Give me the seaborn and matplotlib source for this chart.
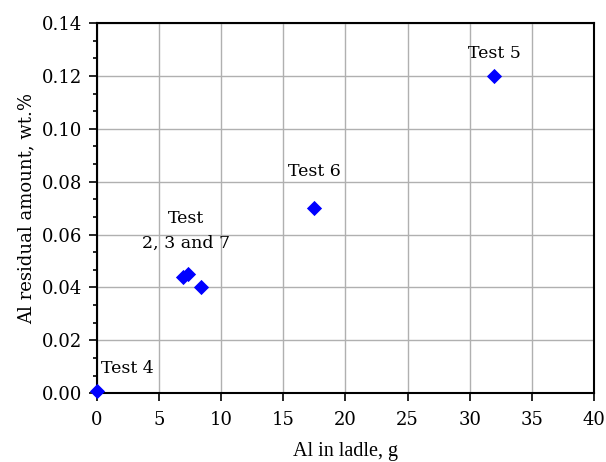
import matplotlib.pyplot as plt
import seaborn as sns
import pandas as pd
from matplotlib.ticker import MultipleLocator, AutoMinorLocator

# Al added to ladle vs residual Al
al_ladle = [0.0, 6.9, 7.3, 8.4, 17.5, 32.0]
al_residual = [0.001, 0.044, 0.045, 0.040, 0.070, 0.120]

# annotation texts and anchor points (data coords, baseline of last line)
labels = ["Test 4", "Test\n2, 3 and 7", "Test 6", "Test 5"]
label_x = [0.3, 7.2, 17.5, 32.0]
label_y = [0.0075, 0.0548, 0.0822, 0.1268]
label_ha = ["left", "center", "center", "center"]

sns.set_style("white")
plt.rcParams['font.family'] = ['DejaVu Serif']
plt.rcParams['text.color'] = 'black'
plt.rcParams['axes.labelcolor'] = 'black'
plt.rcParams['xtick.color'] = 'black'
plt.rcParams['ytick.color'] = 'black'

df = pd.DataFrame({"x": al_ladle, "y": al_residual})

fig, ax = plt.subplots(figsize=(6.06, 4.62), dpi=100)
sns.scatterplot(data=df, x="x", y="y", marker="D", s=60, color="blue",
                edgecolor="blue", linewidth=0, ax=ax, zorder=5, clip_on=False)

for t, lx, ly, ha in zip(labels, label_x, label_y, label_ha):
    ax.text(lx, ly, t, ha=ha, va="baseline", fontsize=12.5, linespacing=1.65)

ax.set_xlim(0, 40)
ax.set_ylim(0, 0.14)
ax.xaxis.set_major_locator(MultipleLocator(5))
ax.yaxis.set_major_locator(MultipleLocator(0.02))
ax.yaxis.set_minor_locator(AutoMinorLocator(3))
ax.yaxis.set_major_formatter(plt.FuncFormatter(lambda v, p: f"{v:.2f}"))

ax.grid(True, which="major", color="#b0b0b0", linewidth=1)
ax.set_axisbelow(True)
for sp in ax.spines.values():
    sp.set_color("black")
    sp.set_linewidth(1.5)

ax.tick_params(axis="both", which="major", direction="out", length=6, width=1.2,
               labelsize=13, bottom=True, left=True)
ax.tick_params(axis="x", which="major", pad=7)
ax.tick_params(axis="y", which="major", pad=4.5)
ax.tick_params(axis="y", which="minor", direction="out", length=3, width=1.2,
               left=True)

ax.set_xlabel("Al in ladle, g", fontsize=14.5, family="Liberation Serif", labelpad=9)
ax.set_ylabel("Al residual amount, wt.%", fontsize=13, labelpad=5)

fig.subplots_adjust(left=0.16, right=0.98, top=0.95, bottom=0.149)
fig.savefig("out.png", dpi=100)
